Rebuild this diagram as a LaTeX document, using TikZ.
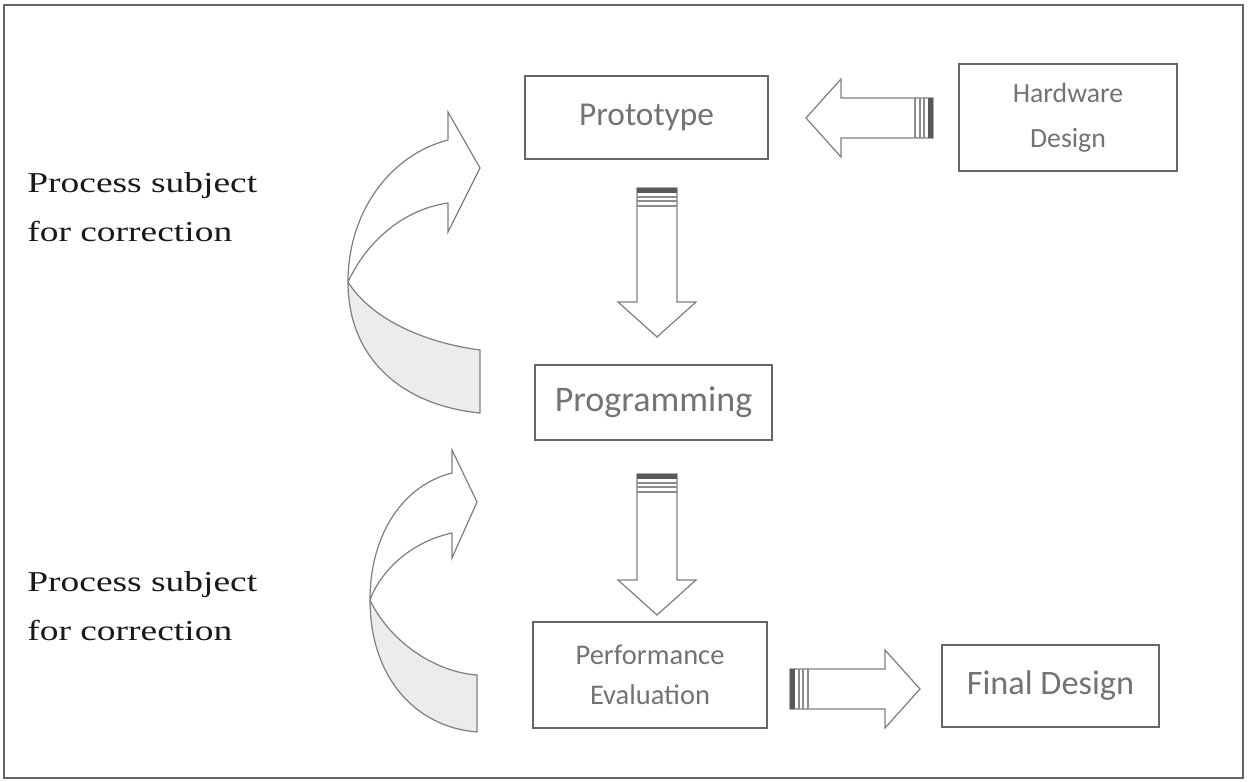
\documentclass[tikz,border=0pt]{standalone}
\usepackage{fontspec}
\setmainfont{Liberation Serif}
\newfontfamily\boxfont{Carlito}
\newfontfamily\notefont[FakeStretch=1.3]{Liberation Serif}
\usepackage{tikz}
\usetikzlibrary{positioning,calc}

\tikzset{
  stage/.style={draw=black!60, line width=0.8pt, text=black!55, align=center, inner sep=0pt},
  arrowline/.style={draw=black!50, line width=0.7pt, line join=miter},
  note/.style={font=\notefont\fontsize{16.4}{28}\selectfont, text=black!90, align=left, anchor=west, inner sep=0pt},
  pics/bigarrow/.style={code={
    \draw[arrowline, fill=white] (0,-0.4) -- (#1-0.7,-0.4) -- (#1-0.7,-0.78) -- (#1,0)
      -- (#1-0.7,0.78) -- (#1-0.7,0.4) -- (0,0.4) -- cycle;
    \fill[black!65] (0,-0.4) rectangle (0.1,0.4);
    \foreach \s in {0.18,0.26,0.36}
      \draw[black!45, line width=0.6pt] (\s,-0.4) -- (\s,0.4);
  }}
}

\begin{document}
\begin{tikzpicture}
    \useasboundingbox (0,0) rectangle (24.96,15.64);
    \draw[black!60, line width=0.8pt] (0.08,0.08) rectangle (24.86,15.54);

    % stages
    \node[stage, minimum width=4.86cm, minimum height=1.66cm, font=\boxfont\fontsize{19}{22}\selectfont] (proto) at (12.93,13.29) {Prototype};
    \node[stage, minimum width=4.36cm, minimum height=2.14cm, font=\boxfont\fontsize{15.8}{25.5}\selectfont] (hw) at (21.36,13.29) {Hardware\\Design};
    \node[stage, minimum width=4.74cm, minimum height=1.5cm, font=\boxfont\fontsize{20.5}{24}\selectfont] (prog) at (13.07,7.59) {Programming};
    \node[stage, minimum width=4.68cm, minimum height=2.12cm, font=\boxfont\fontsize{16.2}{22.7}\selectfont] (perf) at (13.0,2.14) {Performance\\Evaluation};
    \node[stage, minimum width=4.34cm, minimum height=1.64cm, font=\boxfont\fontsize{19.5}{22}\selectfont] (final) at (21.01,1.92) {Final Design};

    % block arrows
    \coordinate (hwtail) at (18.66,13.28);
    \coordinate (prototail) at (13.14,11.88);
    \coordinate (progtail) at (13.14,6.16);
    \coordinate (perftail) at (15.8,1.86);
    \pic[rotate=180] at (hwtail) {bigarrow=2.54};
    \pic[rotate=-90] at (prototail) {bigarrow=2.98};
    \pic[rotate=-90] at (progtail) {bigarrow=2.82};
    \pic at (perftail) {bigarrow=2.6};

    % upper curved arrow
    \fill[gray!15] (6.96,10.00) .. controls (7.40,9.30) and (8.40,8.80) .. (9.60,8.64)
        -- (9.60,7.38) .. controls (8.00,7.54) and (6.96,8.50) .. (6.96,10.00) -- cycle;
    \draw[arrowline] (8.96,11.58) .. controls (8.00,11.44) and (7.30,10.74) .. (6.96,10.00)
        .. controls (7.40,9.30) and (8.40,8.80) .. (9.60,8.64) -- (9.60,7.38)
        .. controls (8.00,7.54) and (6.96,8.50) .. (6.96,10.00)
        .. controls (6.96,11.40) and (7.80,12.54) .. (8.96,12.84)
        -- (8.96,13.40) -- (9.60,12.28) -- (8.96,11.00) -- cycle;

    % lower curved arrow
    \fill[gray!15] (7.40,3.64) .. controls (7.80,2.80) and (8.70,2.20) .. (9.54,2.14)
        -- (9.54,1.00) .. controls (8.30,1.10) and (7.40,2.10) .. (7.40,3.64) -- cycle;
    \draw[arrowline] (9.04,4.98) .. controls (8.20,4.80) and (7.60,4.20) .. (7.40,3.64)
        .. controls (7.80,2.80) and (8.70,2.20) .. (9.54,2.14) -- (9.54,1.00)
        .. controls (8.30,1.10) and (7.40,2.10) .. (7.40,3.64)
        .. controls (7.40,5.00) and (8.10,5.95) .. (9.04,6.18)
        -- (9.04,6.64) -- (9.54,5.60) -- (9.04,4.48) -- cycle;

    % notes
    \node[note] (upnote) at (0.54,11.50) {Process subject\\for correction};
    \node[note] (lownote) at (0.54,3.52) {Process subject\\for correction};
\end{tikzpicture}
\end{document}
